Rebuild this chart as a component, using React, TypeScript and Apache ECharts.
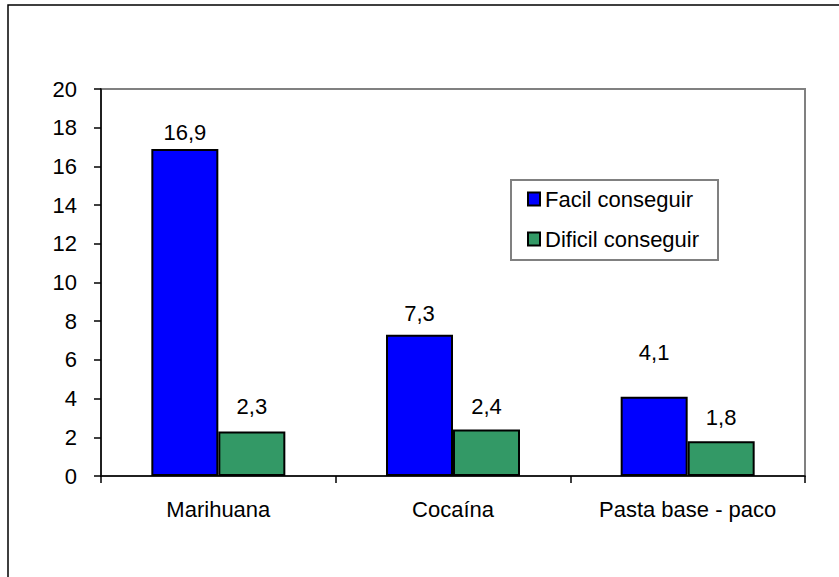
import React, { useEffect, useRef } from "react";
import * as echarts from "echarts";

const categories = ["Marihuana", "Cocaína", "Pasta base - paco"];
const facilValues = [16.9, 7.3, 4.1];
const dificilValues = [2.3, 2.4, 1.8];
const seriesNames = ["Facil conseguir", "Dificil conseguir"];
const yTicks = { min: 0, max: 20, interval: 2 };

const FONT = "'Liberation Sans', Arial, sans-serif";
const FS = 22;

export default function App() {
  const ref = useRef<HTMLDivElement>(null);
  useEffect(() => {
    if (!ref.current) return;
    const chart = echarts.init(ref.current, null, { renderer: "svg" });
    const facilLift = [5, 10, 33];
    const dificilLift = [14, 12, 13];
    const fmt = (v: number) => v.toFixed(1).replace(".", ",");
    const mk = (vals: number[], lifts: number[]) =>
      vals.map((v, i) => ({ value: v, label: { distance: lifts[i] } }));
    chart.setOption({
      animation: false,
      textStyle: { fontFamily: FONT },
      grid: {
        left: 101,
        top: 89,
        right: 34,
        bottom: 101,
        show: true,
        borderColor: "#808080",
        borderWidth: 2,
        backgroundColor: "transparent",
      },
      graphic: [
        {
          type: "rect",
          shape: { x: 8, y: 5, width: 900, height: 700 },
          style: { fill: "none", stroke: "#000", lineWidth: 1.5 },
          silent: true,
        },
        {
          type: "rect",
          shape: { x: 511, y: 180, width: 207, height: 80 },
          style: { fill: "#fff", stroke: "#808080", lineWidth: 2 },
          silent: true,
          z: 5,
        },
      ],
      legend: {
        orient: "vertical",
        left: 527,
        top: 188,
        itemGap: 18,
        itemWidth: 12,
        itemHeight: 13,
        icon: "rect",
        padding: 0,
        z: 10,
        textStyle: { fontSize: FS, color: "#000", fontFamily: FONT, lineHeight: 22 },
        data: seriesNames,
      },
      xAxis: {
        type: "category",
        data: categories,
        axisLine: { lineStyle: { color: "#000", width: 1.5 } },
        axisTick: { show: true, length: 7, lineStyle: { color: "#000", width: 1.5 } },
        axisLabel: { color: "#000", fontSize: FS, margin: 22, fontFamily: FONT },
      },
      yAxis: {
        type: "value",
        min: yTicks.min,
        max: yTicks.max,
        interval: yTicks.interval,
        axisLine: { show: true, lineStyle: { color: "#000", width: 1.5 } },
        axisTick: { show: true, length: 7, lineStyle: { color: "#000", width: 1.5 } },
        axisLabel: { color: "#000", fontSize: FS, margin: 24, fontFamily: FONT },
        splitLine: { show: false },
      },
      series: [
        {
          name: seriesNames[0],
          type: "bar",
          barWidth: 67,
          barGap: "0%",
          data: mk(facilValues, facilLift),
          itemStyle: { color: "#0000FF", borderColor: "#000", borderWidth: 2 },
          label: {
            show: true,
            position: "top",
            color: "#000",
            fontSize: FS,
            fontFamily: FONT,
            formatter: (p: any) => fmt(p.value),
          },
        },
        {
          name: seriesNames[1],
          type: "bar",
          barWidth: 67,
          barGap: "0%",
          data: mk(dificilValues, dificilLift),
          itemStyle: { color: "#339966", borderColor: "#000", borderWidth: 2 },
          label: {
            show: true,
            position: "top",
            color: "#000",
            fontSize: FS,
            fontFamily: FONT,
            formatter: (p: any) => fmt(p.value),
          },
        },
      ],
    });
    return () => chart.dispose();
  }, []);
  return (
    <div
      ref={ref}
      style={{ position: "fixed", left: 0, top: 0, width: 839, height: 577, background: "#fff" }}
    />
  );
}
